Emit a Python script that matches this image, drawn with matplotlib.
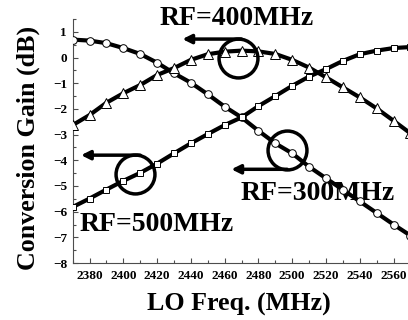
import matplotlib.pyplot as plt

# LO frequency (MHz)
lo_freq = [2370, 2380, 2390, 2400, 2410, 2420, 2430, 2440, 2450, 2460, 2470,
           2480, 2490, 2500, 2510, 2520, 2530, 2540, 2550, 2560, 2570]

# conversion gain (dB) for each RF frequency
gain_300 = [0.70, 0.66, 0.56, 0.37, 0.14, -0.20, -0.61, -0.98, -1.43, -1.91, -2.33,
            -2.85, -3.34, -3.73, -4.25, -4.70, -5.15, -5.60, -6.05, -6.50, -6.93]
gain_400 = [-2.63, -2.24, -1.76, -1.39, -1.07, -0.68, -0.41, -0.09, 0.13, 0.23, 0.27,
            0.24, 0.14, -0.09, -0.39, -0.77, -1.16, -1.55, -1.98, -2.46, -2.95]
gain_500 = [-5.82, -5.49, -5.14, -4.80, -4.49, -4.13, -3.73, -3.34, -2.98, -2.63, -2.33,
            -1.89, -1.50, -1.10, -0.74, -0.45, -0.13, 0.13, 0.27, 0.37, 0.41]

xticks = [2380, 2400, 2420, 2440, 2460, 2480, 2500, 2520, 2540, 2560]
yticks = [-8, -7, -6, -5, -4, -3, -2, -1, 0, 1]

plt.rcParams['font.family'] = 'Liberation Serif'
plt.rcParams['font.weight'] = 'bold'

fig = plt.figure(figsize=(4.08, 3.2), dpi=100)
ax = fig.add_axes([0.178, 0.178, 0.828, 0.7625])

ax.plot(lo_freq, gain_300, '-o', color='black', lw=3, ms=5.5,
        mfc='white', mec='black', mew=0.7, zorder=3)
ax.plot(lo_freq, gain_400, '-^', color='black', lw=3, ms=7,
        mfc='white', mec='black', mew=0.7, zorder=3)
ax.plot(lo_freq, gain_500, '-s', color='black', lw=3, ms=5,
        mfc='white', mec='black', mew=0.7, zorder=3)

ax.set_xlim(2370, 2570)
ax.set_ylim(-8, 1.5)
ax.set_xticks(xticks)
ax.set_xticks([x + 10 for x in [2360] + xticks], minor=True)
ax.set_yticks(yticks)
ax.set_yticks([y + 0.5 for y in yticks], minor=True)
ax.tick_params(direction='in', length=3.5, width=0.8, labelsize=9.5, color='0.3')
ax.tick_params(which='minor', direction='in', length=2, width=0.8, color='0.3')
ax.tick_params(axis='x', pad=5)
ax.tick_params(axis='y', pad=4)
for lab in ax.get_xticklabels() + ax.get_yticklabels():
    lab.set_fontweight('bold')

for s in ['top', 'right']:
    ax.spines[s].set_visible(False)
for s in ['left', 'bottom']:
    ax.spines[s].set_color('0.3')
    ax.spines[s].set_linewidth(0.8)

# highlight circles and arrows
circles = [(2468, 0.0), (2497, -3.59), (2407, -4.54)]
for cx, cy in circles:
    ax.plot(cx, cy, 'o', ms=28, mfc='none', mec='black', mew=2.5, zorder=4, clip_on=False)

arrows = [((2470, 0.72), (2435, 0.72)),
          ((2497, -4.35), (2464, -4.35)),
          ((2410, -3.80), (2375, -3.80))]
for start, end in arrows:
    ax.annotate('', xy=end, xytext=start,
                arrowprops=dict(arrowstyle='-|>', lw=2.5, color='black',
                                mutation_scale=13, shrinkA=0, shrinkB=0))

ax.text(2467, 1.53, 'RF=400MHz', fontsize=20, fontweight='bold',
        ha='center', va='center', clip_on=False, zorder=2)
ax.text(2515, -5.29, 'RF=300MHz', fontsize=20, fontweight='bold',
        ha='center', va='center', zorder=2)
ax.text(2420, -6.5, 'RF=500MHz', fontsize=20, fontweight='bold',
        ha='center', va='center', zorder=2)

fig.text(0.07, 0.539, 'Conversion Gain (dB)', rotation=90, fontsize=18.7,
         fontweight='bold', ha='center', va='center')
fig.text(0.5845, 0.05, 'LO Freq. (MHz)', fontsize=18.7, fontweight='bold',
         ha='center', va='center')

fig.savefig('out.png', dpi=100)
